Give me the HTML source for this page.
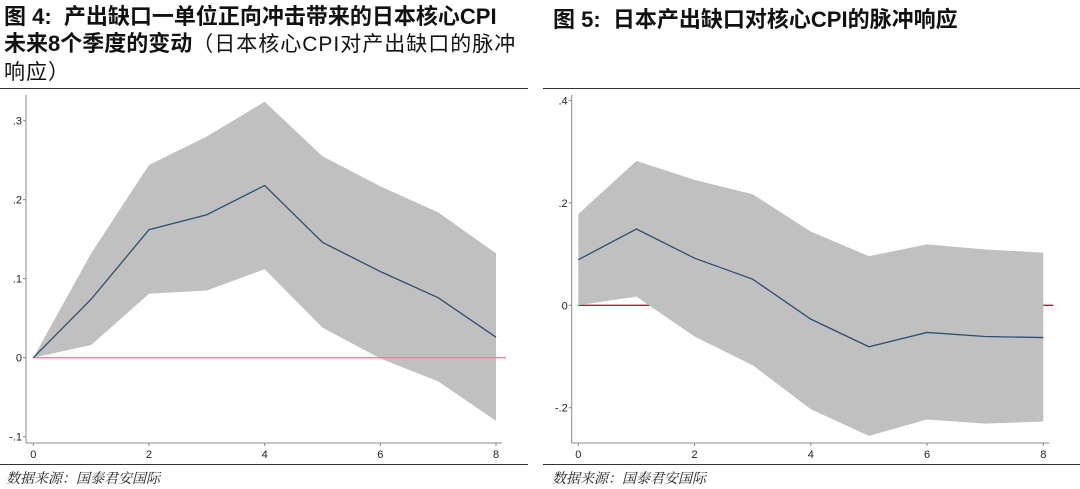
<!DOCTYPE html>
<html><head><meta charset="utf-8">
<style>
body{margin:0;width:1080px;height:489px;background:#fff;overflow:hidden;position:relative;font-family:"Liberation Sans","Noto Sans CJK SC",sans-serif;}
.t{position:absolute;font-size:22px;line-height:27px;color:#111;white-space:nowrap}
.t b{font-weight:bold}
.n{font-weight:normal;letter-spacing:1px;font-size:21px}
.rule{position:absolute;height:1px;background:#333;}
.src{position:absolute;top:468px;font-size:14px;font-style:italic;color:#222;font-family:"Liberation Serif","Noto Serif CJK SC",serif;}
svg{position:absolute;left:0;top:0}
</style></head><body>
<div class="t" style="left:4px;top:3px;width:530px"><b>图 4:&nbsp; 产出缺口一单位正向冲击带来的日本核心CPI<br>未来8个季度的变动</b><span class="n">（日本核心CPI对产出缺口的脉冲<br>响应）</span></div>
<div class="t" style="left:553px;top:6px"><b>图 5:&nbsp; 日本产出缺口对核心CPI的脉冲响应</b></div>
<div class="rule" style="left:0;top:88px;width:528px"></div>
<div class="rule" style="left:543px;top:88px;width:537px"></div>
<div class="rule" style="left:0;top:464px;width:528px"></div>
<div class="rule" style="left:543px;top:464px;width:537px"></div>
<div class="src" style="left:6px">数据来源：国泰君安国际</div>
<div class="src" style="left:552px">数据来源：国泰君安国际</div>
<svg id="c" width="1080" height="489"></svg>
<script>
const periods=[0,1,2,3,4,5,6,7,8];
const leftMean=[0,0.074,0.162,0.181,0.218,0.146,0.109,0.076,0.026];
const leftUpper=[0,0.132,0.244,0.280,0.324,0.255,0.217,0.184,0.132];
const leftLower=[0,0.016,0.081,0.085,0.112,0.038,-0.001,-0.030,-0.080];
const leftTicks=[-0.1,0,0.1,0.2,0.3];
const leftTickLabels=["-.1","0",".1",".2",".3"];
const rightMean=[0.089,0.149,0.092,0.051,-0.027,-0.081,-0.053,-0.061,-0.063];
const rightUpper=[0.178,0.282,0.245,0.217,0.144,0.096,0.119,0.109,0.103];
const rightLower=[0.0,0.017,-0.061,-0.117,-0.203,-0.255,-0.223,-0.231,-0.227];
const rightTicks=[-0.2,0,0.2,0.4];
const rightTickLabels=["-.2","0",".2",".4"];
const xTicks=[0,2,4,6,8];
const NS="http://www.w3.org/2000/svg";
const svg=document.getElementById('c');
function mk(tag,attrs,name){const e=document.createElementNS(NS,tag);for(const k in attrs)e.setAttribute(k,attrs[k]);


svg.appendChild(e);return e;}
function draw(cfg){
 const X=v=>cfg.x0+(v-0)*(cfg.x8-cfg.x0)/8;
 const Y=v=>cfg.y0-v*cfg.ppu;
 const zl=()=>mk('line',{x1:cfg.x0,x2:cfg.x8+10,y1:Y(0),y2:Y(0),stroke:cfg.zc,'stroke-width':1.3},cfg.p+'-zero-line');
 if(!cfg.zTop)zl();
 let pts=periods.map((p,i)=>X(p)+','+Y(cfg.upper[i]));
 for(let i=periods.length-1;i>=0;i--)pts.push(X(periods[i])+','+Y(cfg.lower[i]));
 mk('polygon',{points:pts.join(' '),fill:'#c0c0c0'},cfg.p+'-ci-band');
 if(cfg.zTop)zl();
 mk('polyline',{points:periods.map((p,i)=>X(p)+','+Y(cfg.mean[i])).join(' '),fill:'none',stroke:'#2e4f72','stroke-width':1.3},cfg.p+'-irf-line');
 mk('line',{x1:cfg.ax,x2:cfg.ax,y1:cfg.top,y2:cfg.bot,stroke:'#888','stroke-width':1},cfg.p+'-y-axis');
 mk('line',{x1:cfg.ax,x2:cfg.x8+6,y1:cfg.bot,y2:cfg.bot,stroke:'#888','stroke-width':1},cfg.p+'-x-axis');
 cfg.ticks.forEach((t,i)=>{
  mk('line',{x1:cfg.ax-3,x2:cfg.ax,y1:Y(t),y2:Y(t),stroke:'#888'},cfg.p+'-y-tick');
  const tx=mk('text',{x:cfg.ax-4,y:Y(t)+4,'text-anchor':'end','font-size':11,fill:'#222','font-family':'Liberation Sans'},cfg.p+'-y-tick-label');
  tx.textContent=cfg.labels[i];
 });
 xTicks.forEach(t=>{
  mk('line',{x1:X(t),x2:X(t),y1:cfg.bot,y2:cfg.bot+3,stroke:'#888'},cfg.p+'-x-tick');
  const tx=mk('text',{x:X(t),y:cfg.bot+15,'text-anchor':'middle','font-size':11,fill:'#222','font-family':'Liberation Sans'},cfg.p+'-x-tick-label');
  tx.textContent=String(t);
 });
}
draw({p:'left',x0:33.3,x8:496,y0:357.7,ppu:790,ax:26,top:95,bot:443,upper:leftUpper,lower:leftLower,mean:leftMean,ticks:leftTicks,labels:leftTickLabels,zc:'#e8849a',zTop:true});
draw({p:'right',x0:578.3,x8:1043.3,y0:305.3,ppu:512,ax:571.7,top:95,bot:443,upper:rightUpper,lower:rightLower,mean:rightMean,ticks:rightTicks,labels:rightTickLabels,zc:'#c8103a',zTop:false});
</script>
</body></html>
